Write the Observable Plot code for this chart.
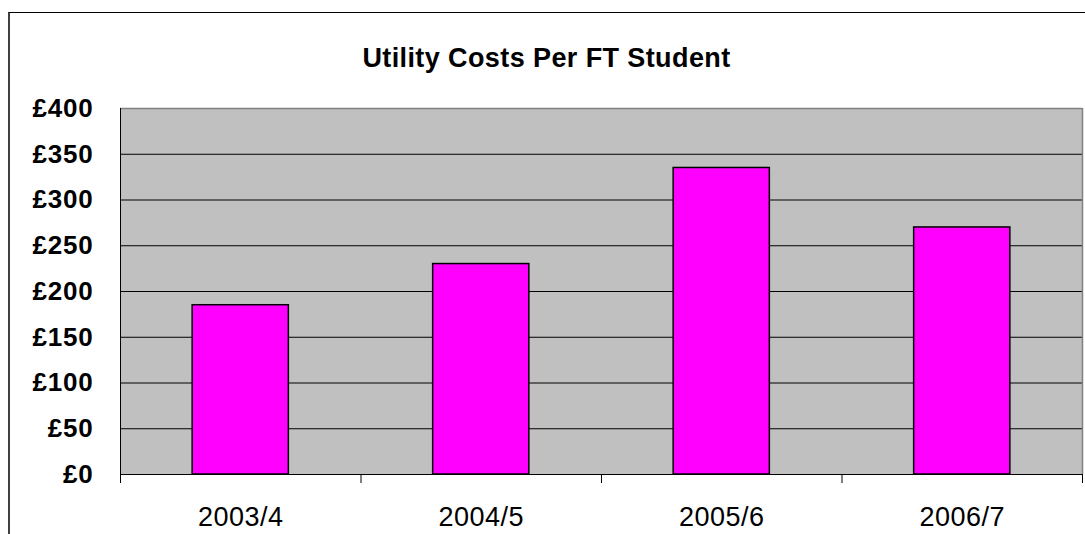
<!DOCTYPE html>
<html>
<head>
<meta charset="utf-8">
<script src="https://cdn.jsdelivr.net/npm/d3@7"></script>
<script src="https://cdn.jsdelivr.net/npm/@observablehq/plot@0.6"></script>
<style>
  html, body { margin: 0; padding: 0; background: #fff; }
  #wrap { position: relative; width: 1085px; height: 534px; overflow: hidden; font-family: "Liberation Sans", Arial, sans-serif; }
  #frame { position: absolute; left: 8px; top: 12px; width: 1100px; height: 600px; border-left: 2px solid #404040; border-top: 1px solid #000; box-sizing: border-box; }
  #title { position: absolute; left: 0; top: 43px; width: 1093px; text-align: center; font-weight: bold; font-size: 27px; letter-spacing: 0.4px; line-height: normal; color: #000; }
  #chart { position: absolute; left: 0; top: 0; }
  #chart svg g[aria-label="y-axis tick label"] text { letter-spacing: 0.8px; }
  #chart svg g[aria-label="x-axis tick label"] text { letter-spacing: 0.5px; }
</style>
</head>
<body>
<div id="wrap">
  <div id="frame"></div>
  <div id="title">Utility Costs Per FT Student</div>
  <div id="chart"></div>
</div>
<script>
const categories = ["2003/4", "2004/5", "2005/6", "2006/7"];
const costs = [185, 230, 335, 270];
const yTicks = [0, 50, 100, 150, 200, 250, 300, 350, 400];

const data = categories.map((c, i) => ({ cat: c, i, value: costs[i] }));
const bounds = d3.range(categories.length + 1);
const centers = categories.map((c, i) => i + 0.5);

const chart = Plot.plot({
  width: 1085,
  height: 534,
  marginLeft: 120,
  marginRight: 3,
  marginTop: 108,
  marginBottom: 60,
  style: { fontFamily: "'Liberation Sans', Arial, sans-serif", background: "transparent", overflow: "visible" },
  x: { domain: [0, categories.length] },
  y: { domain: [0, 400] },
  marks: [
    Plot.frame({ fill: "#c0c0c0", stroke: null }),
    Plot.ruleY(yTicks.filter(v => v > 0 && v < 400), { stroke: "#000", strokeWidth: 1 }),
    Plot.ruleY([400], { stroke: "#808080", strokeWidth: 1.5 }),
    Plot.ruleX([categories.length], { stroke: "#808080", strokeWidth: 1.5 }),
    Plot.rectY(data, {
      x1: d => d.i + 0.3, x2: d => d.i + 0.7, y1: 0, y2: "value",
      fill: "#ff00ff", stroke: "#000", strokeWidth: 1.5
    }),
    Plot.ruleX([0], { stroke: "#000", strokeWidth: 1 }),
    Plot.ruleY([0], { stroke: "#000", strokeWidth: 1 }),
    Plot.axisY({
      ticks: yTicks, tickSize: 9, tickPadding: 18,
      tickFormat: d => "£" + d,
      fontSize: 26, fontWeight: "bold", fill: "#000", stroke: null, label: null
    }),
    Plot.axisX({
      ticks: bounds, tickSize: 9, tickFormat: () => "", label: null
    }),
    Plot.axisX({
      ticks: centers, tickSize: 0, tickPadding: 32,
      tickFormat: d => categories[Math.floor(d)],
      fontSize: 27, fill: "#000", label: null
    })
  ]
});
document.getElementById("chart").appendChild(chart);
</script>
</body>
</html>
